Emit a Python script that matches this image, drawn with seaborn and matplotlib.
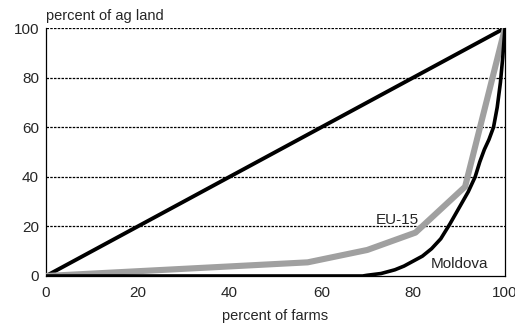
import matplotlib
matplotlib.use("Agg")
import matplotlib.pyplot as plt
import pandas as pd
import seaborn as sns

# ── Data ─────────────────────────────────────────────────────────────────────
equality_x = [0, 100]
equality_y = [0, 100]

eu15_x = [0, 57, 70, 80.5, 91.3, 100]
eu15_y = [0, 5.5, 10.5, 17.5, 36, 100]

moldova_x = [0, 69, 70, 73, 76, 78, 80, 82, 84, 86, 88, 90, 92, 93.5,
             94.5, 95.5, 96.5, 97.5, 98.3, 99, 99.5, 100]
moldova_y = [0, 0, 0.3, 1, 2.5, 4, 6, 8, 11, 15, 21, 27.5, 34, 40,
             46, 51, 55, 60, 68, 78, 88, 100]

ticks = [0, 20, 40, 60, 80, 100]

# ── Style ────────────────────────────────────────────────────────────────────
sns.set_style("white")
plt.rcParams["font.family"] = ["Liberation Sans", "DejaVu Sans"]

fig = plt.figure(figsize=(5.15, 3.26), dpi=100)
ax = fig.add_axes([0.0893, 0.1534, 0.8913, 0.7607])

dash = (0, (2, 1))
for yv in ticks[1:]:
    ax.axhline(yv, color="black", lw=0.9, ls=dash, zorder=1)

eq = pd.DataFrame({"x": equality_x, "y": equality_y})
eu = pd.DataFrame({"x": eu15_x, "y": eu15_y})
md = pd.DataFrame({"x": moldova_x, "y": moldova_y})

sns.lineplot(data=eq, x="x", y="y", color="black", lw=2.8, ax=ax, zorder=3)
sns.lineplot(data=eu, x="x", y="y", color="#a0a0a0", lw=4.4, ax=ax, zorder=3)
sns.lineplot(data=md, x="x", y="y", color="black", lw=2.6, ax=ax, zorder=4)

ax.set_xlim(0, 100)
ax.set_ylim(0, 100)
ax.set_xticks(ticks)
ax.set_yticks(ticks)
ax.tick_params(length=0, labelsize=11)
ax.tick_params(axis="x", pad=7)
ax.tick_params(axis="y", pad=5)
ax.set_xlabel("percent of farms", fontsize=10.5, labelpad=7)
ax.set_ylabel("")

for side in ["left", "right", "bottom"]:
    ax.spines[side].set_visible(True)
    ax.spines[side].set_color("black")
    ax.spines[side].set_linewidth(0.9)
    ax.spines[side].set_linestyle(dash)
ax.spines["top"].set_visible(False)

ax.text(0, 102, "percent of ag land", fontsize=10.5, ha="left", va="bottom")
ax.text(76.5, 22.5, "EU-15", fontsize=11, ha="center", va="center")
ax.text(90, 4.8, "Moldova", fontsize=11, ha="center", va="center")

fig.savefig("out.png", dpi=100)
plt.close(fig)
